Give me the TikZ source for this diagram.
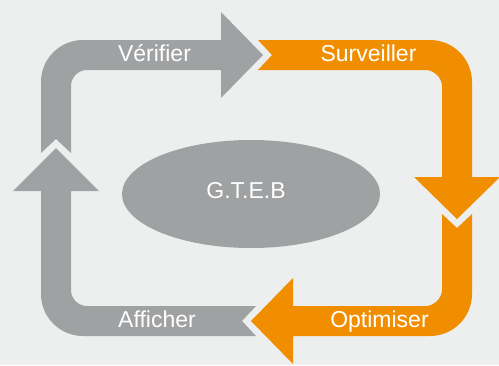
\documentclass[tikz,border=0pt]{standalone}
\usepackage{fontspec}
\setmainfont{Liberation Sans}
\definecolor{bgcol}{RGB}{237,238,238}
\definecolor{arrgrey}{RGB}{160,161,163}
\definecolor{arrorange}{RGB}{241,142,0}
\begin{document}
\begin{tikzpicture}[x=1pt,y=-1pt,
  greyarrow/.style={fill=arrgrey,draw=none},
  orangearrow/.style={fill=arrorange,draw=none},
  lbl/.style={text=white,anchor=base,inner sep=0pt,font=\fontsize{23}{27}\selectfont}]
\fill[bgcol] (0,0) rectangle (499,365);
\useasboundingbox (0,0) rectangle (499,365);
\begin{scope}
\clip (0,0) rectangle (499,365);
% Verifier (grey)
\path[greyarrow] (41,153) -- (41,82) .. controls (41,58.8) and (59.8,40) .. (83,40)
  -- (221,40) -- (221,12) -- (263,55) -- (221,98) -- (221,70) -- (87,70)
  .. controls (78.2,70) and (71,77.2) .. (71,86) -- (71,153) -- (56,139) -- cycle;
% Surveiller (orange)
\path[orangearrow] (258,40) -- (430,40) .. controls (453.2,40) and (472,58.8) .. (472,82)
  -- (472,177) -- (500,177) -- (457,219) -- (414,177) -- (442,177) -- (442,86)
  .. controls (442,77.2) and (433.2,70) .. (426,70) -- (258,70) -- (272,55) -- cycle;
% Optimiser (orange)
\path[orangearrow] (472,214) -- (472,294) .. controls (472,317.2) and (453.2,336) .. (430,336)
  -- (293,336) -- (293,364) -- (251,321) -- (293,278) -- (293,306) -- (426,306)
  .. controls (433.2,306) and (442,298.8) .. (442,290) -- (442,214) -- (457,228) -- cycle;
% Afficher (grey)
\path[greyarrow] (256,336) -- (83,336) .. controls (59.8,336) and (41,317.2) .. (41,294)
  -- (41,191) -- (13,191) -- (56,148) -- (99,191) -- (71,191) -- (71,290)
  .. controls (71,298.8) and (78.2,306) .. (87,306) -- (256,306) -- (242,321) -- cycle;
\end{scope}
\coordinate (center) at (251,194);
\fill[arrgrey] (center) ellipse [x radius=129, y radius=54];
\node[lbl] (verifier) at (154.5,61) {Vérifier};
\node[lbl] (surveiller) at (368.5,61) {Surveiller};
\node[lbl] (optimiser) at (379.5,327) {Optimiser};
\node[lbl] (afficher) at (157,327) {Afficher};
\node[lbl] (gteb) at (246,198) {G.T.E.B};
\end{tikzpicture}
\end{document}
